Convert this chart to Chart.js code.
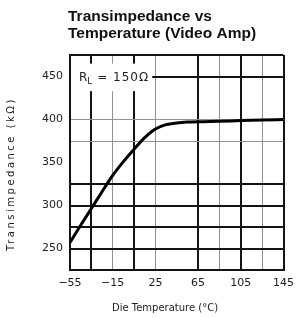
<!DOCTYPE html>
<html>
<head>
<meta charset="utf-8">
<script src="https://cdn.jsdelivr.net/npm/chart.js@4"></script>
<style>body{margin:0;background:#fff}</style>
</head>
<body>
<canvas id="chart" width="301" height="318"></canvas>
<script>
const titleLines = ["Transimpedance vs", "Temperature (Video Amp)"];
const xAxisTitle = "Die Temperature (°C)";
const yAxisTitle = "Transimpedance (kΩ)";
const loadLabel = ["R", "L", " = 150Ω"];

// die temperature (°C) and transimpedance (kΩ)
const temps = [-55, -45, -35, -25, -15, -5, 5, 15, 25, 35, 45, 55, 65, 85, 105, 125, 145];
const transimpedance = [257, 277, 296.5, 316, 335, 351, 365.5, 379, 389, 394, 396, 397, 397.5, 398, 398.7, 399.3, 400];

const xGrid = [-55, -35, -15, 5, 25, 45, 65, 85, 105, 125, 145];
const yGrid = [225, 250, 275, 300, 325, 350, 375, 400, 425, 450, 475];
const xLabelTicks = [-55, -15, 25, 65, 105, 145];
const yLabelTicks = [250, 300, 350, 400, 450];
const darkX = [-55, -35, 5, 65, 105, 145];
const grayX = [-15, 25, 85, 125];
const darkY = [225, 250, 275, 300, 325, 450, 475];
const grayY = [375, 400];

const DARK = "#141414", GRAY = "#929292";

function gridColor(dark, gray) {
    return ctx => {
        const v = ctx.tick ? ctx.tick.value : null;
        if (dark.includes(v)) return DARK;
        if (gray.includes(v)) return GRAY;
        return "rgba(0,0,0,0)";
    };
}
function gridWidth(dark) {
    return ctx => (ctx.tick && dark.includes(ctx.tick.value)) ? 2 : 1;
}
function fmtTemp(v) {
    return v < 0 ? "\u2212" + Math.abs(v) : String(v);
}

const textPlugin = {
    id: "texts",
    beforeDatasetsDraw(chart) {
        const { ctx, chartArea, scales } = chart;
        const x = scales.x, y = scales.y;
        // white box behind the load label
        const bx0 = chartArea.left + 1;
        const bx1 = x.getPixelForValue(22);
        const by0 = y.getPixelForValue(465);
        const by1 = y.getPixelForValue(433);
        ctx.save();
        ctx.fillStyle = "#fff";
        ctx.fillRect(bx0, by0, bx1 - bx0, by1 - by0);
        ctx.restore();
    },
    afterDraw(chart) {
        const { ctx, chartArea, scales } = chart;
        ctx.save();
        ctx.fillStyle = "#111";
        ctx.textBaseline = "alphabetic";
        ctx.textAlign = "left";
        ctx.font = "bold 15.5px 'Liberation Sans', Arial, sans-serif";
        ctx.fillText(titleLines[0], 68, 21);
        ctx.fillText(titleLines[1], 68, 38);

        // load label
        const ly = scales.y.getPixelForValue(450) + 4.5;
        let lx = chartArea.left + 9;
        ctx.fillStyle = "#222";
        ctx.font = "12px 'DejaVu Sans', sans-serif";
        ctx.fillText(loadLabel[0], lx, ly);
        lx += ctx.measureText(loadLabel[0]).width;
        ctx.font = "9px 'DejaVu Sans', sans-serif";
        ctx.fillText(loadLabel[1], lx, ly + 3);
        lx += ctx.measureText(loadLabel[1]).width;
        ctx.font = "12px 'DejaVu Sans', sans-serif";
        ctx.letterSpacing = "1px";
        ctx.fillText(loadLabel[2], lx, ly);
        ctx.letterSpacing = "0px";

        // axis titles
        ctx.font = "10px 'DejaVu Sans', sans-serif";
        ctx.textAlign = "center";
        ctx.fillText(xAxisTitle, 165, 311);
        ctx.translate(14, 174);
        ctx.rotate(-Math.PI / 2);
        ctx.letterSpacing = "2.5px";
        ctx.fillText(yAxisTitle, 0, 0);
        ctx.restore();
    }
};

new Chart(document.getElementById("chart").getContext("2d"), {
    type: "line",
    data: {
        datasets: [{
            data: temps.map((t, i) => ({ x: t, y: transimpedance[i] })),
            borderColor: "#000",
            borderWidth: 3,
            pointRadius: 0,
            fill: false,
            cubicInterpolationMode: "monotone"
        }]
    },
    options: {
        responsive: false,
        animation: false,
        layout: { padding: { left: 0, right: 14, top: 55, bottom: 0 } },
        plugins: { legend: { display: false }, tooltip: { enabled: false } },
        scales: {
            x: {
                type: "linear",
                min: -55, max: 145,
                afterBuildTicks: s => { s.ticks = xGrid.map(v => ({ value: v })); },
                afterFit: s => { s.height = 48; },
                grid: { color: gridColor(darkX, grayX), lineWidth: gridWidth(darkX), drawTicks: false },
                border: { display: true, color: DARK, width: 2 },
                ticks: {
                    autoSkip: false, maxRotation: 0, padding: 7,
                    color: "#222",
                    font: { family: "'DejaVu Sans', sans-serif", size: 11 },
                    callback: v => xLabelTicks.includes(v) ? fmtTemp(v) : ""
                }
            },
            y: {
                type: "linear",
                min: 225, max: 475,
                afterBuildTicks: s => { s.ticks = yGrid.map(v => ({ value: v })); },
                afterFit: s => { s.width = 70; },
                grid: { color: gridColor(darkY, grayY), lineWidth: gridWidth(darkY), drawTicks: false },
                border: { display: true, color: DARK, width: 2 },
                ticks: {
                    autoSkip: false, padding: 7,
                    color: "#222",
                    font: { family: "'DejaVu Sans', sans-serif", size: 11 },
                    callback: v => yLabelTicks.includes(v) ? String(v) : ""
                }
            }
        }
    },
    plugins: [textPlugin]
});
</script>
</body>
</html>
